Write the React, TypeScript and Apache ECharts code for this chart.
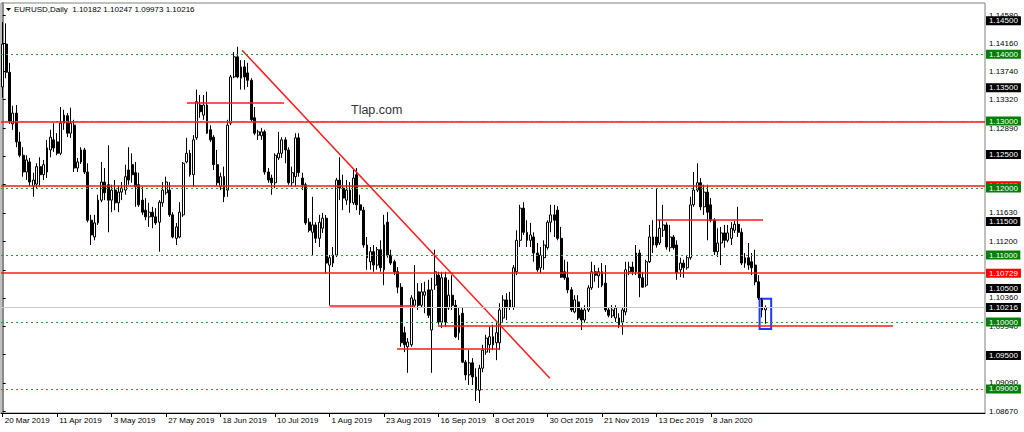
import React, { useEffect, useRef } from 'react';
import * as echarts from 'echarts';

// daily EURUSD candles, 20 Mar 2019 .. 29 Jan 2020
const opens = [
  1.1351, 1.1415, 1.1373, 1.1296, 1.1312, 1.1269, 1.1249, 1.1224, 1.1239, 1.1203,
  1.1206, 1.1232, 1.1220, 1.1224, 1.1257, 1.1272, 1.1269, 1.1252, 1.1297, 1.1308,
  1.1282, 1.1294, 1.1230, 1.1239, 1.1257, 1.1224, 1.1152, 1.1127, 1.1148, 1.1182,
  1.1209, 1.1205, 1.1182, 1.1197, 1.1178, 1.1194, 1.1197, 1.1227, 1.1235, 1.1223,
  1.1205, 1.1182, 1.1167, 1.1157, 1.1164, 1.1157, 1.1149, 1.1178, 1.1193, 1.1197,
  1.1160, 1.1125, 1.1127, 1.1160, 1.1239, 1.1252, 1.1220, 1.1275, 1.1324, 1.1309,
  1.1324, 1.1287, 1.1276, 1.1235, 1.1202, 1.1217, 1.1197, 1.1297, 1.1366, 1.1396,
  1.1364, 1.1381, 1.1372, 1.1361, 1.1305, 1.1279, 1.1278, 1.1284, 1.1224, 1.1215,
  1.1208, 1.1245, 1.1252, 1.1272, 1.1257, 1.1208, 1.1217, 1.1275, 1.1215, 1.1205,
  1.1149, 1.1134, 1.1145, 1.1125, 1.1140, 1.1155, 1.1085, 1.1088, 1.1100, 1.1212,
  1.1200, 1.1182, 1.1197, 1.1178, 1.1220, 1.1175, 1.1167, 1.1115, 1.1090, 1.1105,
  1.1085, 1.1108, 1.1078, 1.1149, 1.1100, 1.1090, 1.1075, 1.1052, 1.0984, 1.0963,
  1.0966, 1.1025, 1.1045, 1.1025, 1.1040, 1.1048, 1.0988, 1.1055, 1.1070, 1.1000,
  1.1066, 1.1021, 1.1040, 1.1025, 1.0984, 1.1013, 1.0940, 1.0921, 1.0939, 1.0918,
  1.0898, 1.0931, 1.0955, 1.0966, 1.0978, 1.0969, 1.0969, 1.1006, 1.1033, 1.1022,
  1.1022, 1.1075, 1.1122, 1.1170, 1.1134, 1.1122, 1.1127, 1.1103, 1.1081, 1.1096,
  1.1111, 1.1149, 1.1160, 1.1167, 1.1125, 1.1075, 1.1066, 1.1048, 1.1015, 1.1030,
  1.1018, 1.1003, 1.1018, 1.1051, 1.1075, 1.1069, 1.1075, 1.1058, 1.1018, 1.1009,
  1.1006, 1.1006, 1.1000, 1.1015, 1.1075, 1.1082, 1.1075, 1.1103, 1.1066, 1.1055,
  1.1090, 1.1115, 1.1127, 1.1118, 1.1137, 1.1145, 1.1111, 1.1127, 1.1115, 1.1078,
  1.1088, 1.1081, 1.1096, 1.1175, 1.1197, 1.1208, 1.1172, 1.1194, 1.1175, 1.1152,
  1.1105, 1.1118, 1.1133, 1.1122, 1.1125, 1.1137, 1.1146, 1.1134, 1.1088, 1.1096,
  1.1090, 1.1085, 1.1060, 1.1033, 1.10182,
];

const closes = [
  1.1415, 1.1373, 1.1300, 1.1312, 1.1269, 1.1249, 1.1224, 1.1242, 1.1209, 1.1212,
  1.1232, 1.1220, 1.1235, 1.1260, 1.1276, 1.1260, 1.1252, 1.1297, 1.1309, 1.1282,
  1.1297, 1.1230, 1.1239, 1.1257, 1.1224, 1.1152, 1.1130, 1.1148, 1.1182, 1.1209,
  1.1193, 1.1182, 1.1197, 1.1178, 1.1194, 1.1200, 1.1217, 1.1212, 1.1220, 1.1202,
  1.1175, 1.1164, 1.1157, 1.1164, 1.1157, 1.1148, 1.1179, 1.1197, 1.1209, 1.1160,
  1.1127, 1.1142, 1.1164, 1.1237, 1.1252, 1.1220, 1.1272, 1.1329, 1.1314, 1.1324,
  1.1282, 1.1272, 1.1235, 1.1208, 1.1217, 1.1187, 1.1294, 1.1366, 1.1396, 1.1366,
  1.1381, 1.1366, 1.1361, 1.1302, 1.1282, 1.1284, 1.1284, 1.1224, 1.1212, 1.1208,
  1.1249, 1.1252, 1.1272, 1.1257, 1.1208, 1.1223, 1.1275, 1.1223, 1.1205, 1.1148,
  1.1137, 1.1145, 1.1125, 1.1149, 1.1155, 1.1088, 1.1096, 1.1100, 1.1212, 1.1200,
  1.1185, 1.1197, 1.1178, 1.1215, 1.1175, 1.1167, 1.1115, 1.1096, 1.1105, 1.1085,
  1.1108, 1.1081, 1.1145, 1.1100, 1.1088, 1.1075, 1.1052, 1.0969, 1.0966, 1.0970,
  1.1036, 1.1033, 1.1025, 1.1045, 1.1045, 1.1010, 1.1048, 1.1075, 1.1000, 1.1066,
  1.1000, 1.1040, 1.1025, 1.0978, 1.1010, 1.0940, 1.0921, 1.0939, 1.0918, 1.0898,
  1.0931, 1.0958, 1.0976, 1.0978, 1.0966, 1.0984, 1.1018, 1.1033, 1.1021, 1.1033,
  1.1081, 1.1122, 1.1170, 1.1134, 1.1122, 1.1130, 1.1103, 1.1078, 1.1100, 1.1115,
  1.1149, 1.1160, 1.1152, 1.1125, 1.1067, 1.1066, 1.1048, 1.1018, 1.1033, 1.1006,
  1.1003, 1.1018, 1.1051, 1.1075, 1.1070, 1.1075, 1.1055, 1.1018, 1.1010, 1.1018,
  1.1021, 1.0996, 1.1018, 1.1078, 1.1082, 1.1075, 1.1103, 1.1066, 1.1052, 1.1090,
  1.1127, 1.1127, 1.1115, 1.1140, 1.1145, 1.1112, 1.1127, 1.1111, 1.1073, 1.1088,
  1.1081, 1.1096, 1.1175, 1.1197, 1.1208, 1.1172, 1.1194, 1.1164, 1.1152, 1.1105,
  1.1118, 1.1133, 1.1122, 1.1133, 1.1140, 1.1146, 1.1134, 1.1088, 1.1096, 1.1085,
  1.1081, 1.1060, 1.1036, 1.1018, 1.10216,
];

const lows = [
  1.1335, 1.1364, 1.1296, 1.1287, 1.1261, 1.1246, 1.1217, 1.1212, 1.1202, 1.1187,
  1.1200, 1.1202, 1.1212, 1.1215, 1.1246, 1.1254, 1.1249, 1.1249, 1.1287, 1.1276,
  1.1275, 1.1224, 1.1224, 1.1236, 1.1221, 1.1149, 1.1115, 1.1122, 1.1145, 1.1179,
  1.1182, 1.1134, 1.1164, 1.1167, 1.1164, 1.1182, 1.1190, 1.1205, 1.1208, 1.1172,
  1.1172, 1.1160, 1.1152, 1.1142, 1.1140, 1.1145, 1.1105, 1.1172, 1.1190, 1.1157,
  1.1125, 1.1115, 1.1125, 1.1157, 1.1237, 1.1217, 1.1202, 1.1272, 1.1305, 1.1302,
  1.1281, 1.1269, 1.1227, 1.1203, 1.1197, 1.1179, 1.1187, 1.1294, 1.1364, 1.1364,
  1.1347, 1.1347, 1.1351, 1.1299, 1.1279, 1.1272, 1.1272, 1.1220, 1.1208, 1.1190,
  1.1200, 1.1242, 1.1245, 1.1237, 1.1205, 1.1202, 1.1202, 1.1217, 1.1197, 1.1145,
  1.1134, 1.1100, 1.1118, 1.1112, 1.1133, 1.1073, 1.1025, 1.1082, 1.1097, 1.1182,
  1.1167, 1.1175, 1.1163, 1.1175, 1.1167, 1.1160, 1.1111, 1.1078, 1.1078, 1.1075,
  1.1078, 1.1075, 1.1055, 1.1096, 1.1085, 1.1070, 1.1043, 1.0963, 1.0955, 1.0924,
  1.0963, 1.1021, 1.1018, 1.1021, 1.1013, 1.1006, 1.0924, 1.1048, 1.0996, 1.0991,
  1.0993, 1.1018, 1.1018, 1.0976, 1.0973, 1.0939, 1.0913, 1.0906, 1.0906, 1.0882,
  1.0879, 1.0925, 1.0951, 1.0954, 1.0958, 1.0943, 1.0958, 1.0999, 1.1003, 1.1018,
  1.1018, 1.1070, 1.1112, 1.1130, 1.1112, 1.1112, 1.1090, 1.1075, 1.1073, 1.1078,
  1.1108, 1.1134, 1.1127, 1.1122, 1.1066, 1.1063, 1.1043, 1.1015, 1.1013, 1.1003,
  1.0988, 1.0999, 1.1015, 1.1048, 1.1060, 1.1051, 1.1052, 1.1015, 1.1007, 1.1006,
  1.1000, 1.0991, 1.0981, 1.1010, 1.1070, 1.1070, 1.1070, 1.1037, 1.1051, 1.1052,
  1.1088, 1.1103, 1.1111, 1.1115, 1.1127, 1.1108, 1.1105, 1.1108, 1.1063, 1.1067,
  1.1066, 1.1078, 1.1093, 1.1172, 1.1194, 1.1167, 1.1160, 1.1122, 1.1149, 1.1100,
  1.1097, 1.1085, 1.1111, 1.1119, 1.1115, 1.1133, 1.1127, 1.1085, 1.1081, 1.1078,
  1.1070, 1.1055, 1.1033, 1.1007, 1.09973,
];

const highs = [
  1.1448, 1.1446, 1.1387, 1.1323, 1.1324, 1.1284, 1.1261, 1.1249, 1.1245, 1.1223,
  1.1237, 1.1246, 1.1242, 1.1272, 1.1287, 1.1297, 1.1282, 1.1321, 1.1317, 1.1312,
  1.1320, 1.1302, 1.1245, 1.1261, 1.1260, 1.1237, 1.1160, 1.1160, 1.1190, 1.1239,
  1.1230, 1.1264, 1.1205, 1.1212, 1.1203, 1.1209, 1.1235, 1.1261, 1.1252, 1.1239,
  1.1223, 1.1202, 1.1185, 1.1178, 1.1172, 1.1170, 1.1182, 1.1209, 1.1217, 1.1209,
  1.1164, 1.1148, 1.1179, 1.1239, 1.1275, 1.1257, 1.1279, 1.1347, 1.1339, 1.1339,
  1.1344, 1.1294, 1.1279, 1.1257, 1.1223, 1.1232, 1.1302, 1.1369, 1.1403, 1.1411,
  1.1391, 1.1391, 1.1387, 1.1364, 1.1321, 1.1287, 1.1290, 1.1287, 1.1230, 1.1220,
  1.1252, 1.1284, 1.1276, 1.1276, 1.1261, 1.1232, 1.1282, 1.1282, 1.1223, 1.1208,
  1.1155, 1.1187, 1.1149, 1.1160, 1.1163, 1.1160, 1.1100, 1.1112, 1.1215, 1.1246,
  1.1220, 1.1212, 1.1209, 1.1227, 1.1230, 1.1190, 1.1172, 1.1127, 1.1112, 1.1115,
  1.1112, 1.1122, 1.1160, 1.1164, 1.1108, 1.1093, 1.1082, 1.1058, 1.0993, 1.0976,
  1.1040, 1.1085, 1.1058, 1.1058, 1.1060, 1.1063, 1.1066, 1.1108, 1.1075, 1.1075,
  1.1075, 1.1063, 1.1070, 1.1033, 1.1022, 1.1022, 1.0943, 1.0958, 1.0946, 1.0931,
  1.0936, 1.0966, 1.0981, 1.0993, 1.0996, 1.0999, 1.1028, 1.1040, 1.1043, 1.1045,
  1.1085, 1.1137, 1.1175, 1.1179, 1.1152, 1.1148, 1.1134, 1.1118, 1.1112, 1.1122,
  1.1152, 1.1175, 1.1175, 1.1173, 1.1142, 1.1093, 1.1090, 1.1052, 1.1040, 1.1040,
  1.1022, 1.1025, 1.1055, 1.1090, 1.1085, 1.1081, 1.1088, 1.1085, 1.1022, 1.1025,
  1.1025, 1.1013, 1.1021, 1.1090, 1.1090, 1.1090, 1.1115, 1.1108, 1.1075, 1.1093,
  1.1145, 1.1152, 1.1200, 1.1152, 1.1175, 1.1149, 1.1145, 1.1130, 1.1122, 1.1096,
  1.1093, 1.1100, 1.1187, 1.1224, 1.1237, 1.1215, 1.1205, 1.1205, 1.1185, 1.1155,
  1.1140, 1.1142, 1.1145, 1.1145, 1.1149, 1.1151, 1.1172, 1.1140, 1.1103, 1.1118,
  1.1103, 1.1108, 1.1070, 1.1036, 1.10247,
];

// date labels under the chart, one every 16 bars
const dateLabels = [
  '20 Mar 2019', '11 Apr 2019', '3 May 2019', '27 May 2019', '18 Jun 2019',
  '10 Jul 2019', '1 Aug 2019', '23 Aug 2019', '16 Sep 2019', '8 Oct 2019',
  '30 Oct 2019', '21 Nov 2019', '13 Dec 2019', '8 Jan 2020',
];
const BARS_PER_LABEL = 16;

// price scale ticks on the right; the labels that the level boxes cover are left out
const priceTicks = [
  1.1458, 1.1416, 1.1374, 1.1332, 1.1289, 1.1247, 1.1205, 1.1163,
  1.1120, 1.1078, 1.1036, 1.0994, 1.0952, 1.0909, 1.0867,
];
const priceTickLabels = [
  1.1458, 1.1416, 1.1374, 1.1332, 1.1289, 1.1163,
  1.1120, 1.1036, 1.0994, 1.0909, 1.0867,
];

// horizontal levels drawn on the chart
const greenLevels = [1.14, 1.13, 1.12, 1.11, 1.10, 1.09];
const blackLabelLevels = [1.145, 1.135, 1.125, 1.115, 1.105, 1.095];
const redFullLevels = [1.1299, 1.12035, 1.10729];
const redLabelled = [1.12035, 1.10729];
const bidPrice = 1.10216;

// drawn segments: [bar from, price from, bar to, price to]
const redSegments = [
  [54.1, 1.1328, 82.6, 1.1328],
  [70.3, 1.1406, 160.7, 1.0916],
  [96, 1.1025, 121.1, 1.1025],
  [115.8, 1.096, 146, 1.096],
  [127.8, 1.0994, 261.5, 1.0994],
  [192.2, 1.1153, 223.3, 1.1153],
];
const blueBox = [222.3, 1.10348, 225.7, 1.09896];

const TOTAL_SLOTS = 289;
const FONT = 'Liberation Sans';
const GREEN = '#2f9a2f';
const RED = '#ff1a1a';

const boxLabel = (text: string, bg: string) => ({
  show: true,
  position: 'end',
  distance: 1,
  formatter: text,
  color: '#ffffff',
  backgroundColor: bg,
  fontFamily: FONT,
  fontSize: 8,
  lineHeight: 8,
  padding: [1, 3, 0, 3],
});

// an empty series that only carries a set of lines in one style
const levelSeries = (name: string, lineStyle: any, data: any[]) => ({
  name,
  type: 'line',
  data: [],
  silent: true,
  markLine: {
    silent: true,
    animation: false,
    precision: 5,
    symbol: ['none', 'none'],
    lineStyle,
    label: { show: false },
    emphasis: { disabled: true },
    data,
  },
});

const App = () => {
  const chartRef = useRef<HTMLDivElement>(null);

  useEffect(() => {
    document.body.style.margin = '0';
    if (!chartRef.current) return;
    const myChart = echarts.init(chartRef.current, null, { renderer: 'svg' });

    const tickIdx = dateLabels.map((_, k) => k * BARS_PER_LABEL);

    const redData: any[] = redFullLevels.map((v) => ({
      yAxis: v,
      label: redLabelled.includes(v) ? boxLabel(v.toFixed(5), '#ff0000') : { show: false },
    }));
    redSegments.forEach(([x0, y0, x1, y1]) => {
      redData.push([{ coord: [x0, y0] }, { coord: [x1, y1] }]);
    });

    const option = {
      animation: false,
      backgroundColor: '#ffffff',
      textStyle: { fontFamily: FONT },
      grid: {
        left: 1,
        right: 39,
        top: 3,
        bottom: 19,
        show: true,
        borderColor: '#808080',
        borderWidth: 1,
      },
      xAxis: {
        type: 'value',
        min: -0.5,
        max: TOTAL_SLOTS - 0.5,
        axisLine: { show: true, onZero: false, lineStyle: { color: '#000000', width: 1 } },
        axisTick: { show: true, customValues: tickIdx, length: 4, lineStyle: { color: '#000000' } },
        axisLabel: {
          customValues: tickIdx,
          formatter: (v: number) => dateLabels[Math.round(v / BARS_PER_LABEL)] ?? '',
          align: 'left',
          margin: 3,
          padding: [0, 0, 0, 2],
          fontFamily: FONT,
          fontSize: 8,
          color: '#000000',
        },
        splitLine: { show: false },
      },
      yAxis: {
        type: 'value',
        position: 'right',
        min: 1.08641,
        max: 1.14764,
        axisLine: { show: true, lineStyle: { color: '#8a8a8a', width: 2 } },
        axisTick: { show: true, customValues: priceTicks, length: 3, lineStyle: { color: '#000000' } },
        axisLabel: {
          customValues: priceTickLabels,
          formatter: (v: number) => v.toFixed(5),
          margin: 4,
          fontFamily: FONT,
          fontSize: 8,
          color: '#000000',
        },
        splitLine: { show: false },
      },
      series: [
        {
          type: 'candlestick',
          data: opens.map((o, i) => [i, o, closes[i], lows[i], highs[i]]),
          encode: { x: 0, y: [1, 2, 3, 4] },
          barWidth: 2.4,
          itemStyle: {
            color: '#ffffff',
            color0: '#000000',
            borderColor: '#000000',
            borderColor0: '#000000',
            borderWidth: 1,
          },
          markArea: {
            silent: true,
            itemStyle: { color: 'rgba(0,0,0,0)', borderColor: '#1a3cff', borderWidth: 2 },
            data: [[{ xAxis: blueBox[0], yAxis: blueBox[1] }, { xAxis: blueBox[2], yAxis: blueBox[3] }]],
          },
        },
        levelSeries('red', { color: RED, type: 'solid', width: 1.5, opacity: 1 }, redData),
        levelSeries(
          'boxes',
          { color: 'rgba(255,255,255,0)', type: 'solid', width: 1 },
          blackLabelLevels.map((v) => ({ yAxis: v, label: boxLabel(v.toFixed(5), '#000000') })),
        ),
        levelSeries(
          'green',
          { color: GREEN, type: [2, 3], width: 1.2, opacity: 1 },
          greenLevels.map((v) => ({ yAxis: v, label: boxLabel(v.toFixed(5), '#008000') })),
        ),
        levelSeries('bid', { color: '#c8c8c8', type: 'solid', width: 1, opacity: 1 }, [
          { yAxis: bidPrice, label: boxLabel(bidPrice.toFixed(5), '#000000') },
        ]),
      ],
      graphic: [
        {
          type: 'polygon',
          shape: { points: [[6, 8], [11, 8], [8.5, 11]] },
          style: { fill: '#000000' },
        },
        {
          type: 'text',
          left: 14,
          top: 5,
          style: {
            text: 'EURUSD,Daily  1.10182 1.10247 1.09973 1.10216',
            fontFamily: FONT,
            fontSize: 8,
            fill: '#000000',
          },
        },
        {
          type: 'text',
          left: 351,
          top: 103,
          style: { text: 'Tlap.com', fontFamily: FONT, fontSize: 12.5, fill: '#333333' },
        },
      ],
    };

    myChart.setOption(option as any);

    const onResize = () => myChart.resize();
    window.addEventListener('resize', onResize);
    return () => {
      window.removeEventListener('resize', onResize);
      myChart.dispose();
    };
  }, []);

  return <div ref={chartRef} style={{ width: 1024, height: 432 }}></div>;
};

export default App;
